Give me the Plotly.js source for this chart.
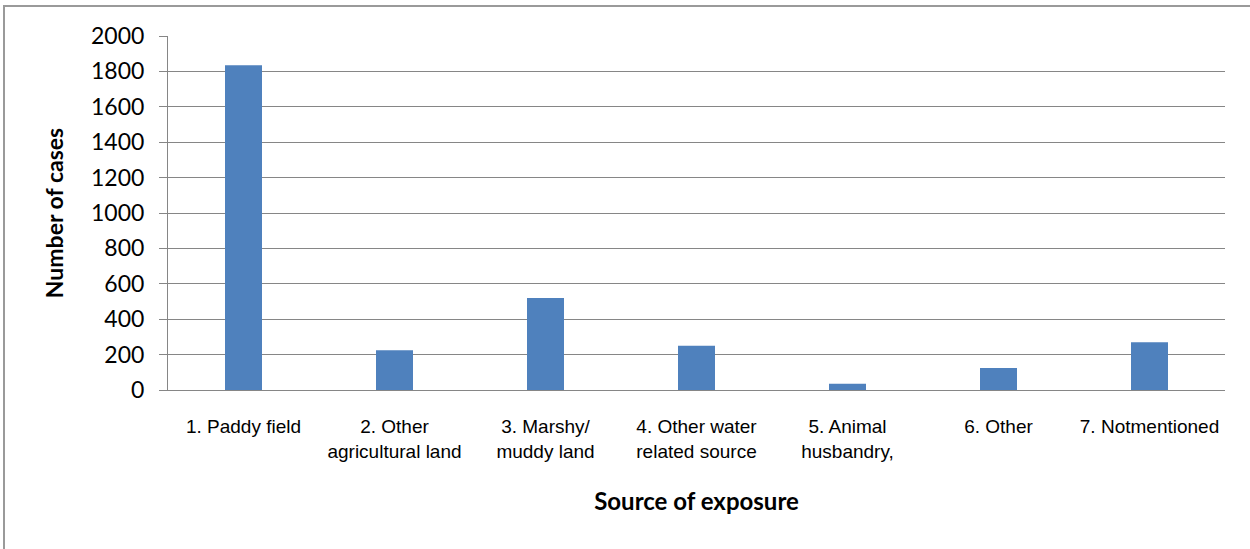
<!DOCTYPE html>
<html>
<head>
<meta charset="utf-8">
<script src="https://cdn.plot.ly/plotly-3.0.1.min.js"></script>
<style>
  html, body { margin: 0; padding: 0; background: #fff; width: 1250px; height: 549px; overflow: hidden; }
  #frame { position: absolute; left: 3px; top: 5px; width: 1260px; height: 560px; border-left: 2px solid #9a9a9a; border-top: 2px solid #9a9a9a; box-sizing: border-box; }
  #chart { position: absolute; left: 0; top: 0; width: 1250px; height: 549px; }
</style>
</head>
<body>
<div id="frame"></div>
<div id="chart"></div>
<script>
const categories = [
  "1. Paddy field",
  "2. Other<br>agricultural land",
  "3. Marshy/<br>muddy land",
  "4. Other water<br>related source",
  "5. Animal<br>husbandry,",
  "6. Other",
  "7. Notmentioned"
];
const cases = [1835, 225, 520, 250, 35, 125, 270];
const yTicks = [0, 200, 400, 600, 800, 1000, 1200, 1400, 1600, 1800, 2000];

const trace = {
  type: "bar",
  x: categories,
  y: cases,
  marker: { color: "#4F81BD", line: { width: 0 } },
  hoverinfo: "x+y"
};

const layout = {
  width: 1250,
  height: 549,
  margin: { l: 168, r: 25, t: 36, b: 159 },
  paper_bgcolor: "rgba(0,0,0,0)",
  plot_bgcolor: "rgba(0,0,0,0)",
  bargap: 0.755,
  showlegend: false,
  font: { family: "Liberation Sans Narrow, Liberation Sans, sans-serif", color: "#000" },
  xaxis: {
    type: "category",
    showgrid: false,
    showline: true,
    linecolor: "#868686",
    linewidth: 1,
    ticks: "",
    ticklabelstandoff: 19,
    tickfont: { family: "Liberation Sans Narrow, sans-serif", size: 19, color: "#000" },
    title: { text: "Source of exposure", font: { family: "Lato, sans-serif", size: 24, weight: "bold", color: "#000" }, standoff: 32 }
  },
  yaxis: {
    range: [0, 2000],
    tickvals: yTicks,
    ticktext: yTicks.map(String),
    showgrid: true,
    gridcolor: "#868686",
    gridwidth: 1,
    showline: true,
    linecolor: "#868686",
    linewidth: 1,
    ticks: "outside",
    ticklen: 8,
    tickcolor: "#868686",
    ticklabelstandoff: 10,
    zeroline: false,
    tickfont: { family: "Lato, sans-serif", size: 23, color: "#000" },
    title: { text: "Number of cases", font: { family: "Lato, sans-serif", size: 23, weight: "bold", color: "#000" }, standoff: 20 }
  }
};

Plotly.newPlot("chart", [trace], layout, { displayModeBar: false, staticPlot: true });
</script>
</body>
</html>
